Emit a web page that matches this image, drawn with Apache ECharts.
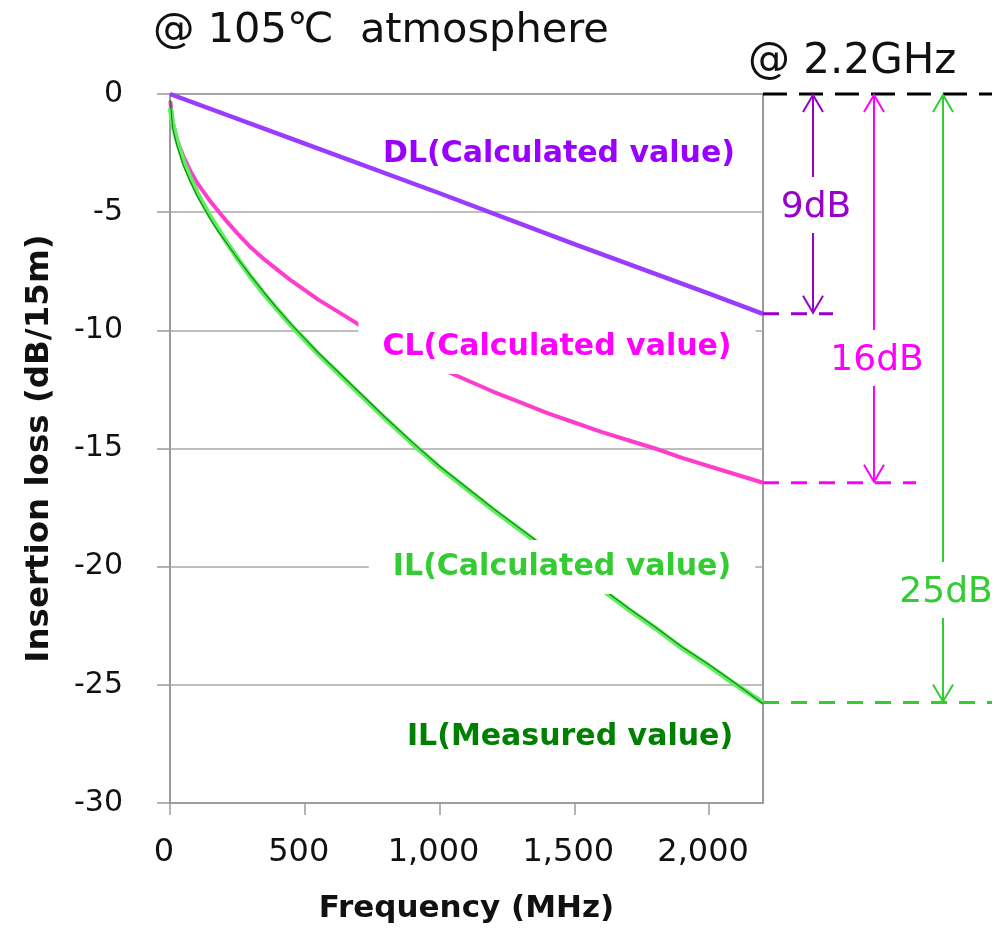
<!DOCTYPE html>
<html>
<head>
<meta charset="utf-8">
<script src="https://cdn.jsdelivr.net/npm/echarts@6/dist/echarts.min.js"></script>
<style>
html,body{margin:0;padding:0;background:#fff;}
#c{width:992px;height:929px;}
</style>
</head>
<body>
<div id="c"></div>
<script>
// ---- data ----
const freqMHz = [1, 10, 25, 50, 75, 100, 125, 150, 175, 200, 250, 300, 350, 400, 450, 500, 550, 600, 650, 700, 800, 900, 1000, 1100, 1200, 1300, 1400, 1500, 1600, 1700, 1800, 1900, 2000, 2100, 2200];
const clLoss = [-0.3, -1.2, -1.9, -2.65, -3.25, -3.75, -4.15, -4.55, -4.9, -5.25, -5.9, -6.5, -7.0, -7.45, -7.9, -8.3, -8.7, -9.05, -9.4, -9.75, -10.4, -11.0, -11.6, -12.1, -12.6, -13.05, -13.5, -13.9, -14.3, -14.65, -15.0, -15.4, -15.75, -16.1, -16.45];
const ilCalcLoss = [-0.6, -1.25, -1.95, -2.85, -3.55, -4.15, -4.7, -5.2, -5.65, -6.1, -6.95, -7.75, -8.48, -9.15, -9.8, -10.4, -11.0, -11.55, -12.1, -12.65, -13.75, -14.8, -15.8, -16.7, -17.6, -18.45, -19.3, -20.15, -20.95, -21.8, -22.6, -23.45, -24.2, -25.0, -25.75];
const ilMeasLoss = [-0.25, -1.45, -2.15, -3.05, -3.7, -4.3, -4.8, -5.3, -5.75, -6.15, -6.95, -7.7, -8.42, -9.1, -9.75, -10.35, -10.95, -11.5, -12.05, -12.6, -13.7, -14.75, -15.75, -16.65, -17.55, -18.4, -19.25, -20.1, -20.9, -21.75, -22.55, -23.4, -24.15, -24.95, -25.8];
const dlFreq = [0, 500, 1000, 1500, 2000, 2200];
const dlLoss = [0, -2.1, -4.2, -6.35, -8.45, -9.3];
const xTickValues = [0, 500, 1000, 1500, 2000];
const seriesNames = ['DL(Calculated value)', 'CL(Calculated value)', 'IL(Calculated value)', 'IL(Measured value)'];
const diffLabels = ['9dB', '16dB', '25dB'];
const titleText = '@ 105\u2103  atmosphere';
const freqText = '@ 2.2GHz';

// ---- chart ----
const FONT = '"DejaVu Sans", Verdana, sans-serif';
const zip = (xs, ys) => xs.map((x, i) => [x, ys[i]]);
const chart = echarts.init(document.getElementById('c'), null, {renderer: 'canvas'});

chart.setOption({
  animation: false,
  backgroundColor: '#ffffff',
  grid: {left: 170, top: 94, right: 229, bottom: 125, show: true, borderColor: '#7a7a7a', borderWidth: 1.5, backgroundColor: 'transparent'},
  xAxis: {
    type: 'value', min: 0, max: 2200, interval: 500,
    axisLine: {show: true, onZero: false, lineStyle: {color: '#9a9a9a', width: 1.5}},
    axisTick: {show: true, length: 12, customValues: xTickValues, lineStyle: {color: '#9a9a9a', width: 1.5}},
    axisLabel: {customValues: xTickValues, margin: 34, fontFamily: FONT, fontSize: 32, color: '#111',
      padding: [0, 12, 0, 0], formatter: v => Number(v).toLocaleString('en-US')},
    splitLine: {show: false},
    name: 'Frequency (MHz)', nameLocation: 'middle', nameGap: 90,
    nameTextStyle: {fontFamily: FONT, fontSize: 31, fontWeight: 'bold', color: '#111'}
  },
  yAxis: {
    type: 'value', min: -30, max: 0, interval: 5,
    axisLine: {show: true, onZero: false, lineStyle: {color: '#9a9a9a', width: 1.5}},
    axisTick: {show: true, length: 13, lineStyle: {color: '#9a9a9a', width: 1.5}},
    axisLabel: {margin: 47, fontFamily: FONT, fontSize: 30, color: '#111'},
    splitLine: {show: true, lineStyle: {color: '#a8a8a8', width: 1.5}},
    name: 'Insertion loss (dB/15m)', nameLocation: 'middle', nameGap: 114,
    nameTextStyle: {fontFamily: FONT, fontSize: 32.5, fontWeight: 'bold', color: '#111'}
  },
  series: [
    {name: seriesNames[0], type: 'line', data: zip(dlFreq, dlLoss), showSymbol: false, smooth: false,
      lineStyle: {color: '#9a3cff', width: 4.5}, z: 3},
    {name: seriesNames[1], type: 'line', data: zip(freqMHz, clLoss), showSymbol: false, smooth: false,
      lineStyle: {color: '#ff3dcc', width: 4, join: 'round'}, z: 3},
    {name: seriesNames[2], type: 'line', data: zip(freqMHz, ilCalcLoss), showSymbol: false, smooth: false,
      lineStyle: {color: '#5cf05c', width: 5, join: 'round'}, z: 3},
    {name: seriesNames[3], type: 'line', data: zip(freqMHz, ilMeasLoss), showSymbol: false, smooth: false,
      lineStyle: {color: '#0a5e0a', width: 1.2, opacity: 0.75, join: 'round'}, z: 4}
  ]
});

// ---- annotations (positions derived from the axes) ----
const px = (f, v) => chart.convertToPixel({xAxisIndex: 0, yAxisIndex: 0}, [f, v]);
const xEnd = px(2200, 0)[0];
const y0 = px(2200, 0)[1];
const yDL = px(2200, dlLoss[dlLoss.length - 1])[1];
const yCL = px(2200, clLoss[clLoss.length - 1])[1];
const yIL = px(2200, ilCalcLoss[ilCalcLoss.length - 1])[1];

function label(text, cx, cy, color, boxed) {
  const st = {text: text, x: cx, y: cy, fill: color,
    font: 'bold 30px ' + FONT, align: 'center', verticalAlign: 'middle'};
  if (boxed) { st.backgroundColor = '#ffffff'; st.padding = [12, 24]; }
  return {type: 'text', z: 100, style: st};
}
function dash(x1, x2, y, color, d) {
  return {type: 'line', z: 50, shape: {x1: x1, y1: y, x2: x2, y2: y},
    style: {stroke: color, lineWidth: 3, lineDash: d}};
}
function arrow(x, yTop, yBot, tCy, text, color) {
  const els = [];
  const gap = 28;
  els.push({type: 'line', z: 50, shape: {x1: x, y1: yTop, x2: x, y2: tCy - gap}, style: {stroke: color, lineWidth: 2}});
  els.push({type: 'line', z: 50, shape: {x1: x, y1: tCy + gap, x2: x, y2: yBot}, style: {stroke: color, lineWidth: 2}});
  els.push({type: 'polyline', z: 50, shape: {points: [[x - 10, yTop + 17], [x, yTop], [x + 10, yTop + 17]]}, style: {stroke: color, lineWidth: 2, fill: null}});
  els.push({type: 'polyline', z: 50, shape: {points: [[x - 10, yBot - 17], [x, yBot], [x + 10, yBot - 17]]}, style: {stroke: color, lineWidth: 2, fill: null}});
  els.push({type: 'text', z: 60, style: {text: text, x: x + 3, y: tCy + 3, fill: color, font: '36px ' + FONT, align: 'center', verticalAlign: 'middle'}});
  return els;
}

const g = [];
g.push({type: 'text', z: 60, style: {text: titleText, x: 153, y: 31, fill: '#111', font: '41.5px ' + FONT, align: 'left', verticalAlign: 'middle'}});
g.push({type: 'text', z: 60, style: {text: freqText, x: 748, y: 62, fill: '#111', font: '42px ' + FONT, align: 'left', verticalAlign: 'middle'}});
g.push(dash(xEnd, 992, y0, '#000000', [24, 12]));
g.push(dash(xEnd, 833, yDL, '#9900cc', [16, 12]));
g.push(dash(xEnd, 916, yCL, '#ff00ff', [16, 12]));
g.push(dash(xEnd, 992, yIL, '#33cc33', [16, 12]));
g.push(...arrow(813, y0 + 1, yDL - 1, 205, diffLabels[0], '#9900cc'));
g.push(...arrow(874, y0 + 1, yCL - 1, 358, diffLabels[1], '#ff00ff'));
g.push(...arrow(943, y0 + 1, yIL - 1, 590, diffLabels[2], '#33cc33'));
g.push(label(seriesNames[0], 559, 154, '#9900ff', false));
g.push(label(seriesNames[1], 557, 347, '#ff00ff', true));
g.push(label(seriesNames[2], 562, 567, '#33cc33', true));
g.push(label(seriesNames[3], 570, 737, '#008000', true));

chart.setOption({graphic: {elements: g}});
</script>
</body>
</html>
